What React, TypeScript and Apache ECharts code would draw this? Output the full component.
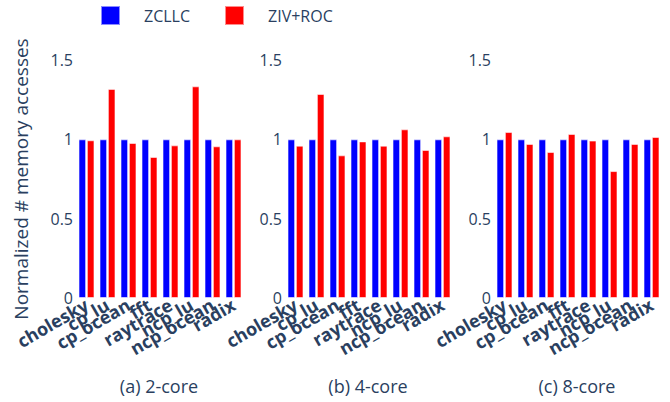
import React, { useEffect, useRef } from "react";
import * as echarts from "echarts";

const categories = ["cholesky", "cp_lu", "cp_ocean", "fft", "raytrace", "ncp_lu", "ncp_ocean", "radix"];
const seriesNames = ["ZCLLC", "ZIV+ROC"];
const panelTitles = ["(a) 2-core", "(b) 4-core", "(c) 8-core"];
const zcllc2 = [1, 1, 1, 1, 1, 1, 1, 1];
const ziv2 = [0.994, 1.318, 0.977, 0.889, 0.962, 1.334, 0.956, 1.0];
const zcllc4 = [1, 1, 1, 1, 1, 1, 1, 1];
const ziv4 = [0.96, 1.286, 0.899, 0.987, 0.96, 1.063, 0.933, 1.019];
const zcllc8 = [1, 1, 1, 1, 1, 1, 1, 1];
const ziv8 = [1.046, 0.971, 0.92, 1.034, 0.992, 0.8, 0.971, 1.015];
const yTicks = [0, 0.5, 1, 1.5];

const TXT = "#2a3f5f";
const FONT = "Open Sans";

export default function App() {
  const ref = useRef<HTMLDivElement>(null);
  useEffect(() => {
    if (!ref.current) return;
    const chart = echarts.init(ref.current, undefined, { renderer: "svg" });
    const lefts = [76, 285, 494];
    const W = 168;
    const panels = [
      [zcllc2, ziv2],
      [zcllc4, ziv4],
      [zcllc8, ziv8],
    ];
    const grids = lefts.map((l) => ({ left: l, width: W, top: 60, height: 238 }));
    const xAxes = lefts.map((_, i) => ({
      type: "category",
      gridIndex: i,
      data: categories,
      axisLine: { show: false },
      axisTick: { show: false },
      axisLabel: {
        interval: 0,
        rotate: 30,
        margin: 5,
        color: TXT,
        fontFamily: FONT,
        fontWeight: "bold",
        fontSize: 18,
      },
    }));
    const yAxes = lefts.map((_, i) => ({
      type: "value",
      gridIndex: i,
      min: yTicks[0],
      max: yTicks[yTicks.length - 1],
      interval: 0.5,
      splitLine: { show: false },
      axisLine: { show: false },
      axisTick: { show: false },
      axisLabel: { color: TXT, fontFamily: FONT, fontSize: 16, margin: 3 },
      name: i === 0 ? "Normalized # memory accesses" : "",
      nameLocation: "middle",
      nameRotate: 90,
      nameGap: 46,
      nameTextStyle: { color: TXT, fontFamily: FONT, fontSize: 19 },
    }));
    const colors = ["#0000ff", "#ff0000"];
    const series: any[] = [];
    panels.forEach((p, i) => {
      p.forEach((d, j) => {
        series.push({
          type: "bar",
          name: seriesNames[j],
          xAxisIndex: i,
          yAxisIndex: i,
          data: d,
          barWidth: 7.6,
          barGap: "10%",
          itemStyle: {
            color: colors[j],
            borderColor: "rgba(255,255,255,0.55)",
            borderWidth: 1,
          },
        });
      });
    });
    chart.setOption({
      animation: false,
      backgroundColor: "#fff",
      legend: {
        data: seriesNames,
        left: 100,
        top: 5,
        padding: 0,
        icon: "rect",
        itemWidth: 19,
        itemHeight: 19,
        itemGap: 34,
        textStyle: { color: TXT, fontFamily: FONT, fontSize: 16, padding: [0, 0, 0, 19] },
      },
      grid: grids,
      xAxis: xAxes,
      yAxis: yAxes,
      series,
      graphic: panelTitles.map((t, i) => ({
        type: "text",
        x: lefts[i] + W / 2 - 1,
        y: 386,
        style: {
          text: t,
          fill: TXT,
          font: `18px "${FONT}"`,
          textAlign: "center",
          textVerticalAlign: "middle",
        },
      })),
    });
    return () => chart.dispose();
  }, []);
  return <div ref={ref} style={{ width: 670, height: 402, position: "absolute", left: 0, top: 0 }} />;
}
